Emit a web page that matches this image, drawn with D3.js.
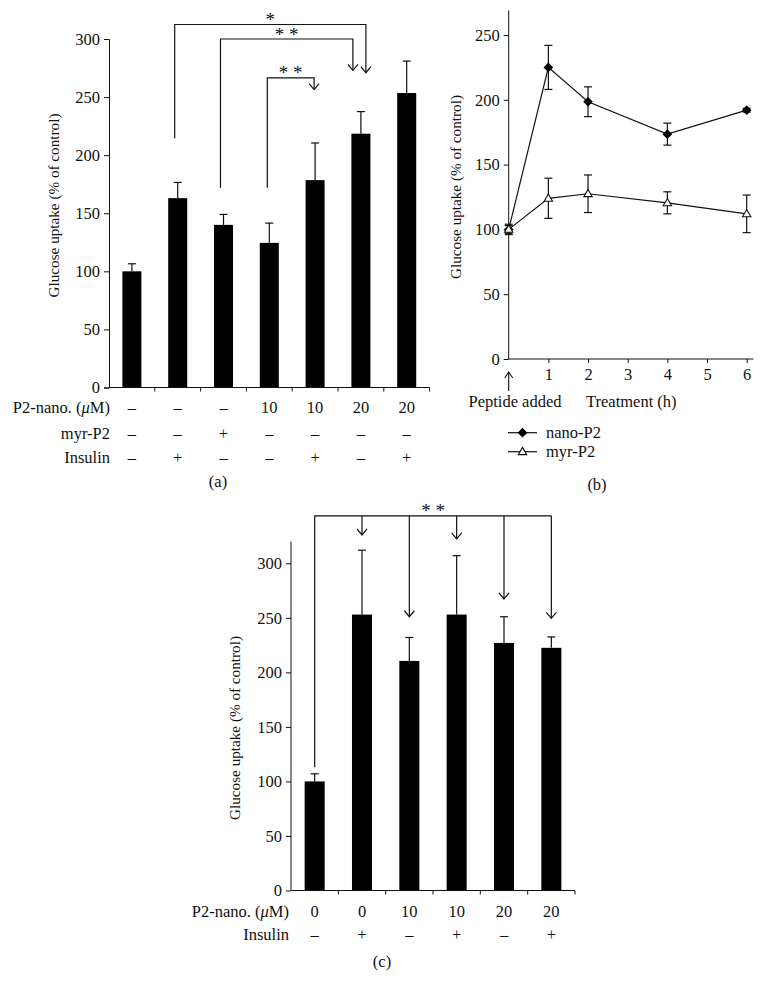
<!DOCTYPE html>
<html><head><meta charset="utf-8">
<script src="https://cdn.jsdelivr.net/npm/d3@7"></script>
<style>
html,body{margin:0;padding:0;background:#fff;}
text{font-family:"Liberation Serif","Times New Roman",serif;fill:#111;}
</style></head>
<body><svg id="chart" width="765" height="995"></svg>
<script>
// ---------- data: panel (a) ----------
const valuesA = [100, 163, 140, 124.5, 178.5, 218.5, 253.5];
const errA    = [6.5, 13.5, 9, 17, 32, 19, 27.5];
const p2nanoA = ["–","–","–","10","10","20","20"];
const myrA    = ["–","–","+","–","–","–","–"];
const insulinA= ["–","+","–","–","+","–","+"];
const ticksA  = [0, 50, 100, 150, 200, 250, 300];
// brackets: from category, to category, top value, start value, arrow tip value, label
const bracketFromA = [1, 2, 3];
const bracketToA   = [5, 5, 4];
const bracketTopA  = [312.5, 300, 266.5];
const bracketStartA= [214.5, 172, 172];
const bracketTipA  = [271, 273, 256.5];
const bracketLabA  = ["*", "* *", "* *"];

// ---------- data: panel (b) ----------
const hoursB   = [0, 1, 2, 4, 6];
const nanoP2   = [100, 225, 198.5, 173.5, 192];
const nanoErr  = [3, 17, 11.5, 8.5, 1.5];
const myrP2    = [100, 124, 127.5, 120.5, 112];
const myrErr   = [4, 15.5, 14.5, 8.5, 14.5];
const ticksBy  = [0, 50, 100, 150, 200, 250];
const ticksBx  = [1, 2, 3, 4, 5, 6];

// ---------- data: panel (c) ----------
const valuesC = [100, 253, 210.5, 253, 227, 222.5];
const errC    = [7, 59, 21.5, 54, 24, 10];
const p2nanoC = ["0","0","10","10","20","20"];
const insulinC= ["–","+","–","+","–","+"];
const ticksC  = [0, 50, 100, 150, 200, 250, 300];
const bracketTopC   = 343.5;
const bracketStartC = 113;
const bracketTipsC  = [null, 326, 251, 322.5, 267.3, 249.5];
const bracketLabC   = "* *";

const svg = d3.select("#chart");
const FS = 16.5;     // table / legend text
const FT = 16.5;     // tick labels
const FY = 15.2;     // axis titles
const ink = "#111";

function arrowHead(g, x, y){
  g.append("path").attr("d", `M${x-5},${y-6}L${x},${y}L${x+5},${y-6}`)
    .attr("fill","none").attr("stroke",ink).attr("stroke-width",1.2);
}
function yAxisLabel(x, y){
  svg.append("text").attr("transform",`translate(${x},${y}) rotate(-90)`)
    .attr("text-anchor","middle").attr("dominant-baseline","middle")
    .attr("font-size",FY).text("Glucose uptake (% of control)");
}
function styleAxis(g){
  g.attr("font-family",null).attr("font-size",null);
  g.selectAll("path,line").attr("stroke",ink).attr("stroke-width",1);
  g.selectAll("text").attr("font-size",FT).attr("fill",ink);
}
function starText(g, x, y, s){
  g.append("text").attr("x",x).attr("y",y).attr("text-anchor","middle")
    .attr("font-size",19).attr("fill","#333").text(s);
}

// ================= Panel (a) =================
{
  const x = d3.scaleBand().domain(d3.range(valuesA.length)).range([109, 429.6])
    .paddingInner(0.585).paddingOuter(0.2925);
  const y = d3.scaleLinear().domain([0, 300]).range([387.5, 39]);
  const g = svg.append("g");
  const cx = i => x(i) + x.bandwidth()/2;

  g.selectAll("rect.bar").data(valuesA).join("rect")
    .attr("x",(d,i)=>x(i)).attr("width",x.bandwidth())
    .attr("y",d=>y(d)).attr("height",d=>y(0)-y(d)).attr("fill","#000");
  valuesA.forEach((v,i)=>{
    g.append("line").attr("x1",cx(i)).attr("x2",cx(i)).attr("y1",y(v)).attr("y2",y(v+errA[i]))
      .attr("stroke",ink).attr("stroke-width",1.2);
    g.append("line").attr("x1",cx(i)-4).attr("x2",cx(i)+4).attr("y1",y(v+errA[i])).attr("y2",y(v+errA[i]))
      .attr("stroke",ink).attr("stroke-width",1.2);
  });
  const ya = g.append("g").attr("transform","translate(109,0)")
    .call(d3.axisLeft(y).tickValues(ticksA).tickSizeOuter(0).tickSize(5).tickPadding(4));
  styleAxis(ya);
  g.append("line").attr("x1",109).attr("x2",429.6).attr("y1",y(0)).attr("y2",y(0)).attr("stroke",ink);
  d3.range(1, valuesA.length+1).forEach(i=>{
    const xx = 109 + i*x.step();
    g.append("line").attr("x1",xx).attr("x2",xx).attr("y1",y(0)).attr("y2",y(0)+4).attr("stroke",ink);
  });
  const rows = [["P2-nano. (", p2nanoA, 407.5], ["myr-P2", myrA, 433.5], ["Insulin", insulinA, 457.5]];
  rows.forEach(([lab, arr, yy], r)=>{
    const t = g.append("text").attr("x",110).attr("y",yy+5).attr("text-anchor","end").attr("font-size",FS);
    if(r===0){ t.append("tspan").text("P2-nano. ("); t.append("tspan").attr("font-style","italic").text("μ"); t.append("tspan").text("M)"); }
    else t.text(lab);
    arr.forEach((s,i)=> g.append("text").attr("x",cx(i)).attr("y",yy+5).attr("text-anchor","middle").attr("font-size",FS).text(s));
  });
  g.append("text").attr("x",218).attr("y",487).attr("text-anchor","middle").attr("font-size",FS).text("(a)");
  const leftOff = [-3, -3, -2], rightOff = [5, -8, -1];
  bracketFromA.forEach((f,k)=>{
    const x1 = cx(f)+leftOff[k], x2 = cx(bracketToA[k])+rightOff[k];
    const yt = y(bracketTopA[k]);
    g.append("path").attr("d",`M${x1},${y(bracketStartA[k])}V${yt}H${x2}V${y(bracketTipA[k])}`)
      .attr("fill","none").attr("stroke",ink).attr("stroke-width",1.2);
    arrowHead(g, x2, y(bracketTipA[k]));
    starText(g, (x1+x2)/2, yt+1.5, bracketLabA[k]);
  });
  yAxisLabel(56, 205.5);
}

// ================= Panel (b) =================
{
  const x = d3.scaleLinear().domain([0, 6]).range([508.7, 746.7]);
  const y = d3.scaleLinear().domain([0, 250]).range([359, 35]);
  const g = svg.append("g");
  g.append("line").attr("x1",x(0)).attr("x2",x(0)).attr("y1",y(0)).attr("y2",y(269)).attr("stroke",ink);
  const ya = g.append("g").attr("transform",`translate(${x(0)},0)`)
    .call(d3.axisLeft(y).tickValues(ticksBy).tickSizeOuter(0).tickSize(5).tickPadding(4));
  ya.select(".domain").remove();
  styleAxis(ya);
  const xa = g.append("g").attr("transform",`translate(0,${y(0)})`)
    .call(d3.axisBottom(x).tickValues(ticksBx).tickFormat(d3.format("d")).tickSizeOuter(0).tickSize(4).tickPadding(5));
  xa.select(".domain").attr("d",`M${x(0)},0H${x(6.17)}`);
  styleAxis(xa);
  g.append("line").attr("x1",x(0)).attr("x2",x(0)).attr("y1",372).attr("y2",391).attr("stroke",ink).attr("stroke-width",1.1);
  g.append("path").attr("d",`M${x(0)-4},${378}L${x(0)},${372}L${x(0)+4},${378}`).attr("fill","none").attr("stroke",ink).attr("stroke-width",1.1);
  g.append("text").attr("x",515).attr("y",407).attr("text-anchor","middle").attr("font-size",FS).text("Peptide added");
  g.append("text").attr("x",586).attr("y",407).attr("text-anchor","start").attr("font-size",FS).text("Treatment (h)");

  const line = d3.line().x((d,i)=>x(hoursB[i])).y(d=>y(d));
  const series = [[nanoP2, nanoErr, "diamond"], [myrP2, myrErr, "triangle"]];
  series.forEach(([vals])=>{
    g.append("path").attr("d",line(vals)).attr("fill","none").attr("stroke",ink).attr("stroke-width",1.2);
  });
  series.forEach(([vals, errs])=>{
    vals.forEach((v,i)=>{
      const xx = x(hoursB[i]);
      g.append("line").attr("x1",xx).attr("x2",xx).attr("y1",y(v-errs[i])).attr("y2",y(v+errs[i])).attr("stroke",ink).attr("stroke-width",1.2);
      [v-errs[i], v+errs[i]].forEach(e=> g.append("line").attr("x1",xx-4).attr("x2",xx+4).attr("y1",y(e)).attr("y2",y(e)).attr("stroke",ink).attr("stroke-width",1.2));
    });
  });
  const diamond = d3.symbol().type(d3.symbolDiamond2).size(60);
  const tri = d3.symbol().type(d3.symbolTriangle2).size(50);
  function mark(kind, xx, yy){
    if(kind==="diamond") g.append("path").attr("d",diamond()).attr("transform",`translate(${xx},${yy})`).attr("fill","#000");
    else g.append("path").attr("d",tri()).attr("transform",`translate(${xx},${yy+0.5})`).attr("fill","#fff").attr("stroke",ink).attr("stroke-width",1.1);
  }
  series.forEach(([vals, errs, kind])=> vals.forEach((v,i)=> mark(kind, x(hoursB[i]), y(v))));
  const leg = [["nano-P2","diamond",432.7],["myr-P2","triangle",451.7]];
  leg.forEach(([lab,kind,yy])=>{
    g.append("line").attr("x1",508).attr("x2",537).attr("y1",yy).attr("y2",yy).attr("stroke",ink).attr("stroke-width",1.2);
    mark(kind, 522.5, yy);
    g.append("text").attr("x",546).attr("y",yy+5).attr("font-size",FS).text(lab);
  });
  g.append("text").attr("x",597).attr("y",490).attr("text-anchor","middle").attr("font-size",FS).text("(b)");
  yAxisLabel(458, 187);
}

// ================= Panel (c) =================
{
  const x = d3.scaleBand().domain(d3.range(valuesC.length)).range([291, 575])
    .paddingInner(0.577).paddingOuter(0.2885);
  const y = d3.scaleLinear().domain([0, 300]).range([890.5, 563.3]);
  const g = svg.append("g");
  const cx = i => x(i) + x.bandwidth()/2;
  g.selectAll("rect.bar").data(valuesC).join("rect")
    .attr("x",(d,i)=>x(i)).attr("width",x.bandwidth())
    .attr("y",d=>y(d)).attr("height",d=>y(0)-y(d)).attr("fill","#000");
  valuesC.forEach((v,i)=>{
    g.append("line").attr("x1",cx(i)).attr("x2",cx(i)).attr("y1",y(v)).attr("y2",y(v+errC[i])).attr("stroke",ink).attr("stroke-width",1.2);
    g.append("line").attr("x1",cx(i)-4).attr("x2",cx(i)+4).attr("y1",y(v+errC[i])).attr("y2",y(v+errC[i])).attr("stroke",ink).attr("stroke-width",1.2);
  });
  g.append("line").attr("x1",291).attr("x2",291).attr("y1",y(0)).attr("y2",y(320)).attr("stroke",ink);
  const ya = g.append("g").attr("transform","translate(291,0)")
    .call(d3.axisLeft(y).tickValues(ticksC).tickSizeOuter(0).tickSize(5).tickPadding(4));
  ya.select(".domain").remove();
  styleAxis(ya);
  g.append("line").attr("x1",291).attr("x2",575).attr("y1",y(0)).attr("y2",y(0)).attr("stroke",ink);
  d3.range(1, valuesC.length+1).forEach(i=>{
    const xx = 291 + i*x.step();
    g.append("line").attr("x1",xx).attr("x2",xx).attr("y1",y(0)).attr("y2",y(0)+4).attr("stroke",ink);
  });
  const rows = [[p2nanoC, 911.7], [insulinC, 935]];
  rows.forEach(([arr, yy], r)=>{
    const t = g.append("text").attr("x",289).attr("y",yy+5).attr("text-anchor","end").attr("font-size",FS);
    if(r===0){ t.append("tspan").text("P2-nano. ("); t.append("tspan").attr("font-style","italic").text("μ"); t.append("tspan").text("M)"); }
    else t.text("Insulin");
    arr.forEach((s,i)=> g.append("text").attr("x",cx(i)).attr("y",yy+5).attr("text-anchor","middle").attr("font-size",FS).text(s));
  });
  g.append("text").attr("x",382).attr("y",967).attr("text-anchor","middle").attr("font-size",FS).text("(c)");
  const yt = y(bracketTopC);
  const xL = cx(0), xR = cx(valuesC.length-1);
  g.append("path").attr("d",`M${xL},${y(bracketStartC)}V${yt}H${xR}`).attr("fill","none").attr("stroke",ink).attr("stroke-width",1.2);
  bracketTipsC.forEach((t,i)=>{
    if(t===null) return;
    g.append("line").attr("x1",cx(i)).attr("x2",cx(i)).attr("y1",yt).attr("y2",y(t)).attr("stroke",ink).attr("stroke-width",1.2);
    arrowHead(g, cx(i), y(t));
  });
  starText(g, (xL+xR)/2, yt+1.5, bracketLabC);
  yAxisLabel(236.7, 728);
}
</script></body></html>
